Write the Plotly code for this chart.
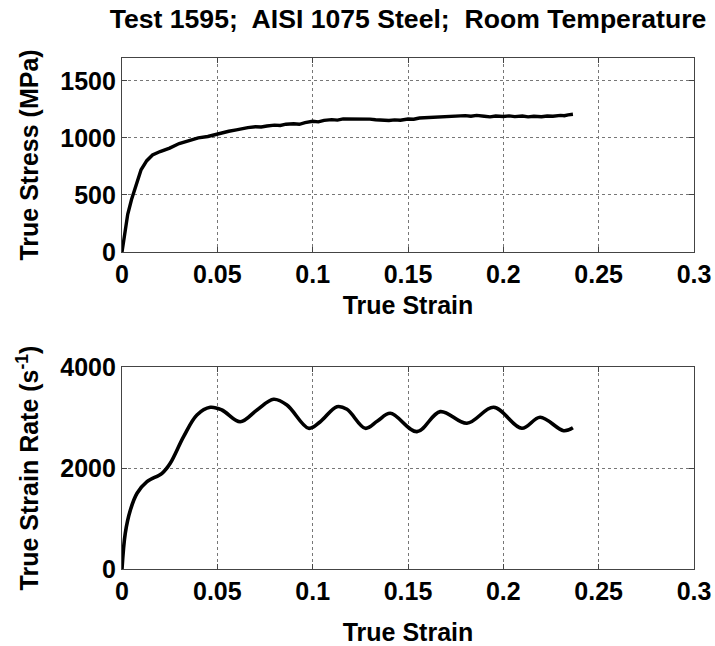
import plotly.graph_objects as go
from plotly.subplots import make_subplots

# ---- data ----
stress_strain = [0, 0.0015, 0.003, 0.005, 0.0075, 0.010, 0.013, 0.016, 0.020, 0.025,
                 0.030, 0.035, 0.040, 0.045, 0.050, 0.053, 0.056, 0.060, 0.063, 0.066,
                 0.070, 0.073, 0.076, 0.080, 0.083, 0.086, 0.090, 0.093, 0.096, 0.100,
                 0.103, 0.106, 0.110, 0.113, 0.116, 0.120, 0.123, 0.126, 0.130, 0.133,
                 0.136, 0.140, 0.143, 0.146, 0.150, 0.153, 0.156, 0.160, 0.163, 0.166,
                 0.170, 0.173, 0.176, 0.180, 0.183, 0.186, 0.190, 0.193, 0.196, 0.200,
                 0.203, 0.206, 0.210, 0.213, 0.216, 0.220, 0.223, 0.226, 0.230, 0.232,
                 0.234, 0.2365]
true_stress = [0, 180, 330, 460, 590, 720, 800, 850, 880, 910,
               950, 975, 1000, 1012, 1035, 1048, 1058, 1070, 1082, 1090,
               1098, 1096, 1104, 1112, 1109, 1120, 1124, 1119, 1133, 1145,
               1140, 1153, 1160, 1156, 1166, 1165, 1170, 1162, 1164, 1159,
               1156, 1152, 1158, 1155, 1165, 1163, 1174, 1178, 1183, 1180,
               1190, 1186, 1195, 1195, 1190, 1197, 1190, 1184, 1192, 1188,
               1193, 1186, 1192, 1184, 1190, 1185, 1192, 1189, 1197, 1194,
               1202, 1207]

rate_strain = [0, 0.0017, 0.0044, 0.0079, 0.0131, 0.021, 0.0253, 0.0323, 0.0393, 0.0463,
               0.0524, 0.062, 0.0708, 0.0795, 0.0865, 0.0979, 0.104, 0.1127, 0.118, 0.1276,
               0.1340, 0.1407, 0.1547, 0.1669, 0.1809, 0.1949, 0.2097, 0.2193, 0.2316, 0.2365]
true_strain_rate = [0, 705, 1168, 1499, 1729, 1894, 2093, 2620, 3050, 3202,
                    3149, 2917, 3149, 3360, 3248, 2786, 2917, 3214, 3162, 2786,
                    2930, 3083, 2720, 3116, 2885, 3202, 2786, 3004, 2739, 2798]

x_ticks = [0, 0.05, 0.1, 0.15, 0.2, 0.25, 0.3]
x_tick_labels = ["0", "0.05", "0.1", "0.15", "0.2", "0.25", "0.3"]
stress_ticks = [0, 500, 1000, 1500]
rate_ticks = [0, 2000, 4000]

title_text = "Test 1595;  AISI 1075 Steel;  Room Temperature"

FONT = "Liberation Sans, Arial, sans-serif"

fig = make_subplots(rows=2, cols=1, vertical_spacing=0.0)

fig.add_trace(go.Scatter(x=stress_strain, y=true_stress, mode="lines",
                         line=dict(color="black", width=3.4),
                         showlegend=False), row=1, col=1)
fig.add_trace(go.Scatter(x=rate_strain, y=true_strain_rate, mode="lines",
                         line=dict(color="black", width=3.6, shape="spline", smoothing=1.0),
                         showlegend=False), row=2, col=1)

axis_common = dict(
    showline=True, linecolor="#444", linewidth=1.2, mirror="ticks",
    ticks="inside", ticklen=5, tickcolor="#444",
    showgrid=True, gridcolor="#777", griddash="dot", gridwidth=1,
    zeroline=False, automargin=False,
    tickfont=dict(family=FONT, size=25, color="black", weight="bold"),
)

fig.update_xaxes(**axis_common, range=[0, 0.3], tickvals=x_ticks, ticktext=x_tick_labels)
fig.update_xaxes(row=1, col=1, domain=[0, 1],
                 title=dict(text="True Strain", standoff=9,
                            font=dict(family=FONT, size=25, color="black", weight="bold")))
fig.update_xaxes(row=2, col=1,
                 title=dict(text="True Strain", standoff=26,
                            font=dict(family=FONT, size=25, color="black", weight="bold")))

fig.update_yaxes(**axis_common)
fig.update_yaxes(row=1, col=1, domain=[0.6204, 1.0], range=[0, 1700], tickvals=stress_ticks,
                 title=dict(text="True Stress (MPa)", standoff=14,
                            font=dict(family=FONT, size=25, color="black", weight="bold")))
fig.update_yaxes(row=2, col=1, domain=[0.0, 0.3953], range=[0, 4000], tickvals=rate_ticks,
                 title=dict(text="True Strain Rate (s<sup>-1</sup>)", standoff=14,
                            font=dict(family=FONT, size=25, color="black", weight="bold")))

fig.update_layout(
    width=715, height=646,
    margin=dict(l=122, r=21, t=58, b=77),
    paper_bgcolor="white", plot_bgcolor="white",
    title=dict(text=title_text, x=0.5, xref="paper", xanchor="center",
               y=1 - 19 / 646, yref="container", yanchor="middle",
               font=dict(family=FONT, size=26.6, color="black", weight="bold")),
)

# remove the page's default body margin so the figure fills the window exactly
fig.write_html("out.html",
               config={"displayModeBar": False},
               post_script="document.body.style.margin='0px';"
                           "document.body.style.overflow='hidden';")
